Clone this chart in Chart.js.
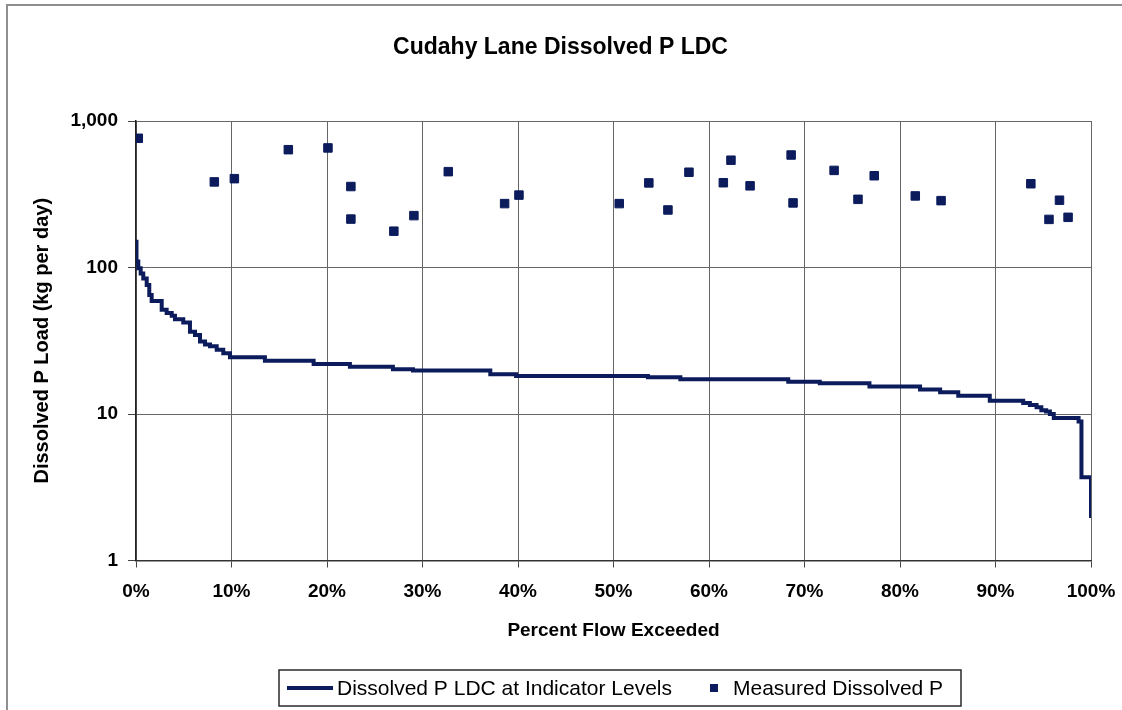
<!DOCTYPE html>
<html>
<head>
<meta charset="utf-8">
<script src="https://cdn.jsdelivr.net/npm/chart.js@4.4.1/dist/chart.umd.min.js"></script>
<style>
  html, body { margin: 0; padding: 0; background: #fff; }
  #wrap { position: relative; width: 1122px; height: 710px; overflow: hidden; }
  #frame { position: absolute; left: 6px; top: 4px; width: 1130px; height: 720px;
           border-left: 2px solid #8f8f8f; border-top: 2px solid #8f8f8f; }
  canvas { position: absolute; left: 0; top: 0; }
</style>
</head>
<body>
<div id="wrap">
  <div id="frame"></div>
  <canvas id="c" width="1122" height="710"></canvas>
</div>
<script>
// Load duration curve: each point marks where a new load level begins (percent of time flow is exceeded).
const ldcPct  = [0, 0.05, 0.24, 0.49, 0.76, 1.12, 1.39, 1.64, 2.69, 3.21, 3.74, 4.08, 4.95, 5.65, 6.18,
                 6.70, 7.23, 7.75, 8.45, 9.14, 9.84, 13.5, 18.6, 22.4, 26.9, 29.0, 37.1, 39.8, 53.6, 57.0,
                 68.3, 71.6, 76.8, 82.1, 84.2, 86.1, 89.4, 92.9, 93.6, 94.3, 94.8, 95.3, 95.7, 96.1, 98.7,
                 99.0, 100];
const ldcLoad = [150, 110, 99, 91, 84, 76, 65, 59, 51.5, 49, 46.8, 44.4, 42.2, 36.4, 34.6,
                 31.3, 29.8, 29.0, 27.4, 26.0, 24.4, 23.1, 21.9, 21.0, 20.2, 19.8, 18.7, 18.2, 17.8, 17.3,
                 16.6, 16.2, 15.4, 14.7, 14.1, 13.3, 12.3, 11.9, 11.5, 11.1, 10.6, 10.4, 10.0, 9.4, 8.9,
                 3.7, 1.95];

// Measured dissolved P samples (kg per day) against flow exceedance percent.
const measuredPct  = [0.24, 8.2, 10.3, 15.95, 20.1, 22.5, 22.5, 27.0, 29.1, 32.7, 38.6, 40.1, 50.6, 53.7, 55.7,
                      57.9, 61.5, 62.3, 64.3, 68.6, 68.8, 73.1, 75.6, 77.3, 81.6, 84.3, 93.7, 95.6, 96.7, 97.6];
const measuredLoad = [762, 384, 404, 637, 655, 357, 214, 177, 226, 451, 273, 312, 273, 378, 247,
                      447, 379, 540, 361, 586, 276, 460, 292, 423, 308, 286, 373, 213, 288, 220];

// Axis ticks
const xTickValues = [0, 10, 20, 30, 40, 50, 60, 70, 80, 90, 100];
const xTickLabels = ['0%', '10%', '20%', '30%', '40%', '50%', '60%', '70%', '80%', '90%', '100%'];
const yTickValues = [1, 10, 100, 1000];
const yTickLabels = ['1', '10', '100', '1,000'];

const NAVY = '#0b1b5c';
const FONT = "'Liberation Sans', Arial, sans-serif";

// Boxed legend drawn under the x-axis title
const boxedLegend = {
  id: 'boxedLegend',
  afterDraw(chart, args, o) {
    const ctx = chart.ctx;
    const ds = chart.data.datasets;
    ctx.save();
    ctx.strokeStyle = '#2a2a2a';
    ctx.lineWidth = 1.5;
    ctx.strokeRect(o.x, o.y, o.w, o.h);
    const cy = o.y + o.h / 2;
    ctx.strokeStyle = ds[0].borderColor;
    ctx.lineWidth = 4;
    ctx.beginPath();
    ctx.moveTo(o.lineX0, cy);
    ctx.lineTo(o.lineX1, cy);
    ctx.stroke();
    ctx.fillStyle = '#000';
    ctx.font = o.font;
    ctx.textBaseline = 'middle';
    ctx.textAlign = 'left';
    ctx.fillText(ds[0].label, o.text1X, cy + 1);
    ctx.fillStyle = ds[1].backgroundColor;
    ctx.fillRect(o.markX - o.markSize / 2, cy - o.markSize / 2, o.markSize, o.markSize);
    ctx.fillStyle = '#000';
    ctx.fillText(ds[1].label, o.text2X, cy + 1);
    ctx.restore();
  }
};

new Chart(document.getElementById('c'), {
  type: 'scatter',
  data: {
    datasets: [
      {
        label: 'Dissolved P LDC at Indicator Levels',
        data: ldcPct.map((x, i) => ({ x, y: ldcLoad[i] })),
        showLine: true,
        stepped: 'before',
        borderColor: NAVY,
        backgroundColor: NAVY,
        borderWidth: 4,
        pointRadius: 0,
        pointHoverRadius: 0,
        order: 2
      },
      {
        label: 'Measured Dissolved P',
        data: measuredPct.map((x, i) => ({ x, y: measuredLoad[i] })),
        showLine: false,
        pointStyle: 'rect',
        pointRadius: 6,
        borderColor: NAVY,
        backgroundColor: NAVY,
        borderWidth: 1,
        order: 1
      }
    ]
  },
  options: {
    responsive: false,
    animation: false,
    devicePixelRatio: 1,
    layout: { padding: { left: 30, right: 31, top: 0, bottom: 59.5 } },
    plugins: {
      legend: { display: false },
      tooltip: { enabled: false },
      title: {
        display: true,
        text: 'Cudahy Lane Dissolved P LDC',
        color: '#000',
        font: { family: FONT, size: 23, weight: 'bold', lineHeight: 1.2 },
        padding: { top: 34, bottom: 59.4 }
      },
      boxedLegend: {
        x: 279, y: 670, w: 682, h: 36,
        lineX0: 287, lineX1: 333,
        text1X: 337, text2X: 733,
        markX: 714, markSize: 8,
        font: "21px " + FONT
      }
    },
    scales: {
      x: {
        type: 'linear',
        min: 0,
        max: 100,
        afterBuildTicks: (s) => { s.ticks = xTickValues.map(v => ({ value: v })); },
        afterFit: (s) => { s.height = 90; s.paddingLeft = 10; s.paddingRight = 10; },
        ticks: {
          autoSkip: false,
          maxRotation: 0,
          padding: 13,
          color: '#000',
          font: { family: FONT, size: 19, weight: 'bold' },
          callback: (v) => xTickLabels[xTickValues.indexOf(v)]
        },
        grid: { color: '#666', lineWidth: 1, tickLength: 7, tickColor: '#444' },
        border: { color: '#333', width: 1.5 },
        title: {
          display: true,
          text: 'Percent Flow Exceeded',
          color: '#000',
          font: { family: FONT, size: 19, weight: 'bold', lineHeight: 1.2 },
          padding: { top: 0, bottom: 8 }
        }
      },
      y: {
        type: 'logarithmic',
        min: 1,
        max: 1000,
        afterBuildTicks: (s) => { s.ticks = yTickValues.map(v => ({ value: v })); },
        afterFit: (s) => { s.width = 106; },
        ticks: {
          autoSkip: false,
          padding: 10,
          color: '#000',
          font: { family: FONT, size: 19, weight: 'bold' },
          callback: (v) => yTickLabels[yTickValues.indexOf(v)]
        },
        grid: { color: '#666', lineWidth: 1, tickLength: 8, tickColor: '#444' },
        border: { color: '#222', width: 1.5 },
        title: {
          display: true,
          text: 'Dissolved P Load (kg per day)',
          color: '#000',
          font: { family: FONT, size: 20, weight: 'bold', lineHeight: 1.2 },
          padding: { top: 0, bottom: 0 }
        }
      }
    }
  },
  plugins: [boxedLegend]
});
</script>
</body>
</html>
